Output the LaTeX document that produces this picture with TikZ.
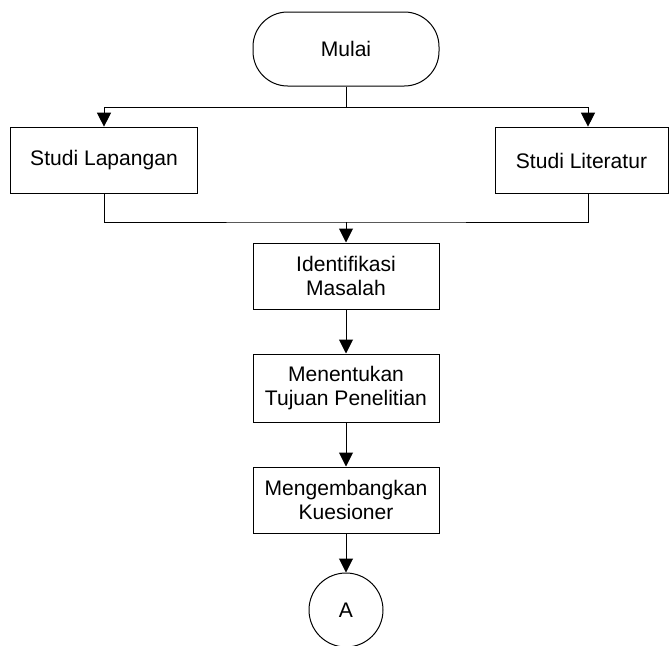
\documentclass[tikz,border=0pt]{standalone}
\usepackage{fontspec}
\setmainfont{Liberation Sans}
\usetikzlibrary{arrows.meta, positioning}

\begin{document}
\begin{tikzpicture}[x=0.75pt, y=-0.75pt,
    every node/.style={font=\fontsize{15.8}{17.5}\selectfont},
    proses/.style={draw, line width=0.75pt, align=center, inner sep=0pt,
        minimum width=139.5pt, minimum height=50pt},
    terminal/.style={draw, line width=0.75pt, rounded corners=26pt,
        minimum width=139.5pt, minimum height=55.5pt},
    konektor/.style={draw, circle, line width=0.75pt, minimum size=55.5pt, inner sep=0pt},
    garis/.style={line width=0.75pt},
    panah/.style={line width=0.75pt, -{Triangle[width=10.5pt, length=10.5pt]}}]
    \useasboundingbox (0,0) rectangle (672,646);

    % Mulai
    \node[terminal] (mulai) at (346,49) {Mulai};

    % Studi lapangan dan studi literatur
    \node[proses, minimum width=140.25pt] (lapangan) at (104,160.5) {Studi Lapangan};
    \node[proses, minimum width=129.75pt] (literatur) at (581.5,160.5) {Studi Literatur};

    % Alur penelitian
    \node[proses, minimum height=49.5pt] (identifikasi) at (346,276) {Identifikasi\\Masalah};
    \node[proses, minimum height=51pt] (tujuan) at (346,388) {Menentukan\\Tujuan Penelitian};
    \node[proses, minimum height=49.5pt] (kuesioner) at (346,500) {Mengembangkan\\Kuesioner};

    % Konektor A
    \node[konektor] (A) at (346,610) {A};

    % Percabangan
    \coordinate (cabang) at (346,107);
    \coordinate (cabangR) at (588,107);
    \coordinate (gabung) at (346,222);
    \draw[garis] (mulai) -- (cabang);
    \draw[panah] (cabang) -| (lapangan.north);
    \draw[panah] (cabang) -- (cabangR) -- (literatur.north -| cabangR);

    % Penggabungan
    \draw[garis] (lapangan.south) |- (gabung) -| (literatur.south -| cabangR);
    \draw[panah] (gabung) -- (identifikasi);
    \draw[panah] (identifikasi) -- (tujuan);
    \draw[panah] (tujuan) -- (kuesioner);
    \draw[panah] (kuesioner) -- (A);
\end{tikzpicture}
\end{document}
